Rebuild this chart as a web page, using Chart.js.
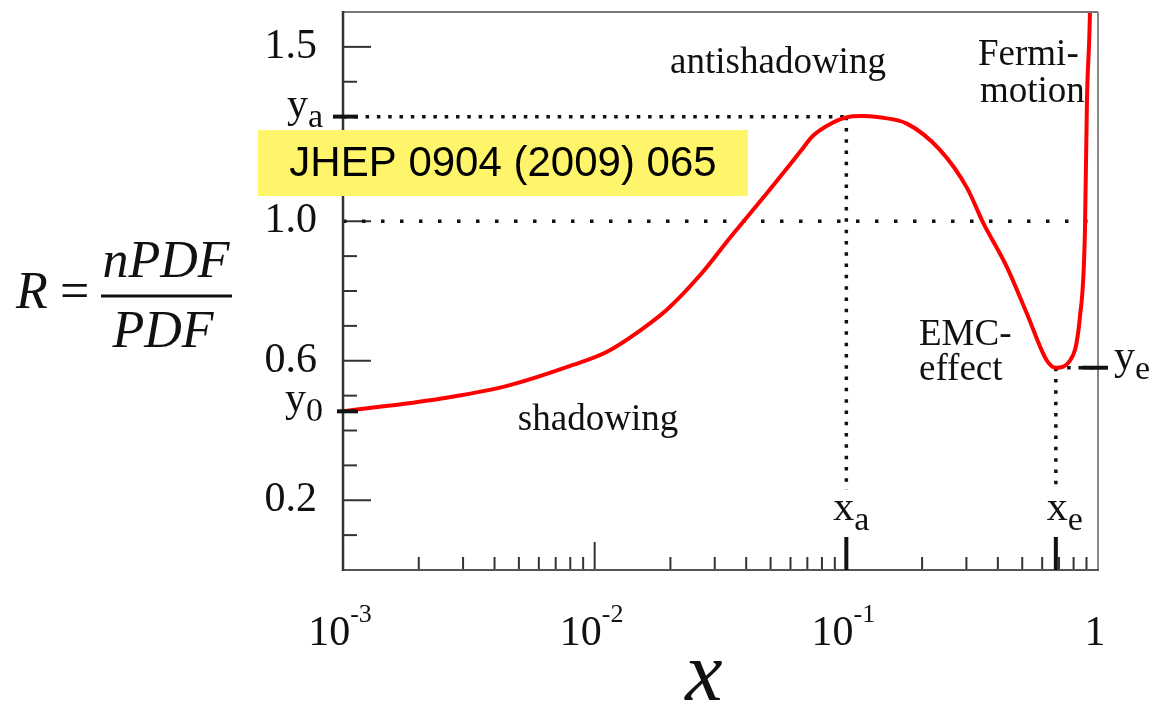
<!DOCTYPE html>
<html>
<head>
<meta charset="utf-8">
<title>nPDF / PDF</title>
<script src="https://cdn.jsdelivr.net/npm/chart.js@4.4.1/dist/chart.umd.min.js"></script>
<style>
  html, body { margin: 0; padding: 0; background: #fff; }
  #wrap { width: 1154px; height: 707px; }
</style>
</head>
<body>
<div id="wrap"><canvas id="ratioChart" width="1154" height="707"></canvas></div>
<script>
// R(x) = nPDF/PDF along the red curve
const xPoints = [0.001, 0.00243, 0.00449, 0.0082, 0.0112, 0.0151, 0.0194, 0.0262, 0.0354, 0.0388,
                 0.0484, 0.0655, 0.0737, 0.0885, 0.1, 0.115, 0.135, 0.174, 0.236, 0.302,
                 0.349, 0.435, 0.522, 0.627, 0.68, 0.773, 0.847, 0.887, 0.904, 0.929, 0.945];
const ratio = [0.455, 0.491, 0.528, 0.588, 0.626, 0.686, 0.747, 0.845, 0.963, 0.997,
               1.081, 1.199, 1.245, 1.283, 1.298, 1.302, 1.298, 1.280, 1.204, 1.095,
               0.997, 0.868, 0.735, 0.600, 0.58, 0.600, 0.724, 0.965, 1.348, 1.60, 2.0];

// characteristic points
const xa = 0.1, ya = 1.30;   // antishadowing maximum
const xe = 0.68, ye = 0.58;  // EMC minimum
const y0 = 0.455;            // small-x limit
const guideBottom = 0.23;

// axis ticks
const yTickValues = [0.1, 0.2, 0.3, 0.4, 0.5, 0.6, 0.7, 0.8, 0.9, 1.0, 1.1, 1.2, 1.3, 1.4, 1.5];
const yLabelValues = [1.5, 1.0, 0.6, 0.2];
const yTickLabels = ['1.5', '1.0', '0.6', '0.2'];
const xDecades = [0.001, 0.01, 0.1, 1];
const xDecadeLabels = [['10', '-3'], ['10', '-2'], ['10', '-1'], ['1', '']];

const SERIF = '"Liberation Serif", "DejaVu Serif", serif';

function richText(ctx, main, small, x, y, align, size, smallSize, shift) {
  ctx.font = size + 'px ' + SERIF;
  const w1 = ctx.measureText(main).width;
  ctx.font = smallSize + 'px ' + SERIF;
  const w2 = ctx.measureText(small).width;
  let left = x;
  if (align === 'right') left = x - w1 - w2;
  if (align === 'center') left = x - (w1 + w2) / 2;
  ctx.textAlign = 'left';
  ctx.textBaseline = 'alphabetic';
  ctx.font = size + 'px ' + SERIF;
  ctx.fillText(main, left, y);
  ctx.font = smallSize + 'px ' + SERIF;
  ctx.fillText(small, left + w1, y + shift);
}

function line(ctx, x1, y1, x2, y2, w, color) {
  ctx.beginPath();
  ctx.lineWidth = w;
  ctx.strokeStyle = color;
  ctx.moveTo(x1, y1);
  ctx.lineTo(x2, y2);
  ctx.stroke();
}

const decorations = {
  id: 'decorations',
  beforeDatasetsDraw(chart) {
    const { ctx, chartArea: a, scales: { x, y } } = chart;
    ctx.save();
    ctx.lineCap = 'butt';
    // inward ticks on the y axis
    yTickValues.forEach(v => {
      const py = y.getPixelForValue(v);
      const len = yLabelValues.includes(v) ? 28 : 14;
      line(ctx, a.left, py, a.left + len, py, 2, '#333');
    });
    // log ticks on the x axis
    xDecades.slice(0, 3).forEach(d => {
      for (let m = 2; m <= 9; m++) {
        const px = x.getPixelForValue(m * d);
        line(ctx, px, a.bottom, px, a.bottom - 13, 2, '#333');
      }
    });
    const p2 = x.getPixelForValue(0.01);
    line(ctx, p2, a.bottom, p2, a.bottom - 28, 2, '#333');
    ctx.restore();
  },
  afterDraw(chart) {
    const { ctx, chartArea: a, scales: { x, y } } = chart;
    ctx.save();
    ctx.lineCap = 'butt';
    // frame
    line(ctx, a.left, a.top, a.right, a.top, 2, '#777');
    line(ctx, a.right, a.top, a.right, a.bottom, 2, '#888');
    line(ctx, a.left, a.bottom, a.right + 1, a.bottom, 2, '#555');
    line(ctx, a.left, a.top - 1, a.left, a.bottom + 1, 2.5, '#333');

    // thick marks at the characteristic points
    const pya = y.getPixelForValue(ya), py0 = y.getPixelForValue(y0), pye = y.getPixelForValue(ye);
    const pxa = x.getPixelForValue(xa), pxe = x.getPixelForValue(xe);
    line(ctx, a.left - 10, pya, a.left + 15, pya, 4, '#111');
    line(ctx, a.left - 6, py0, a.left + 15, py0, 4, '#111');
    line(ctx, a.right - 16, pye, a.right + 10, pye, 4, '#111');
    line(ctx, pxa, a.bottom, pxa, a.bottom - 33, 4, '#111');
    line(ctx, pxe, a.bottom, pxe, a.bottom - 33, 4, '#111');

    ctx.fillStyle = '#111';
    richText(ctx, 'y', 'a', a.left - 20, pya, 'right', 42, 34, 10);
    richText(ctx, 'y', '0', a.left - 20, py0, 'right', 42, 34, 10);
    richText(ctx, 'y', 'e', a.right + 16, pye + 1, 'left', 42, 34, 10);
    richText(ctx, 'x', 'a', pxa - 13, a.bottom - 50, 'left', 42, 34, 10);
    richText(ctx, 'x', 'e', pxe - 9, a.bottom - 50, 'left', 42, 34, 10);

    // decade labels under the x axis
    xDecades.forEach((d, i) => {
      const [base, exp] = xDecadeLabels[i];
      richText(ctx, base, exp, x.getPixelForValue(d) - 3, a.bottom + 75, 'center', 42, 26, -23);
    });

    // region names
    ctx.font = '37px ' + SERIF;
    ctx.textAlign = 'center';
    ctx.textBaseline = 'alphabetic';
    ctx.fillText('antishadowing', 778, 73);
    ctx.fillText('shadowing', 598, 430);
    ctx.textAlign = 'left';
    ctx.fillText('Fermi-', 978, 65);
    ctx.fillText('motion', 980, 102);
    ctx.fillText('EMC-', 919, 345);
    ctx.fillText('effect', 919, 380);

    // axis title and ratio definition
    ctx.font = 'italic 84px ' + SERIF;
    ctx.textAlign = 'center';
    ctx.fillText('x', 704, 700);
    ctx.font = 'italic 52px ' + SERIF;
    ctx.textAlign = 'left';
    ctx.fillText('R', 16, 308);
    ctx.font = '52px ' + SERIF;
    ctx.fillText('=', 60, 308);
    ctx.font = 'italic 52px ' + SERIF;
    ctx.textAlign = 'center';
    ctx.fillText('nPDF', 166, 277);
    ctx.fillText('PDF', 163, 347);
    line(ctx, 101, 296, 232, 296, 3, '#111');

    // reference box
    ctx.fillStyle = '#fff56b';
    ctx.fillRect(258, 130, 490, 66);
    ctx.fillStyle = '#000';
    ctx.font = '42px "Liberation Sans", Arial, sans-serif';
    ctx.textAlign = 'center';
    ctx.textBaseline = 'middle';
    ctx.fillText('JHEP 0904 (2009) 065', 503, 164);
    ctx.restore();
  }
};

const guide = (pts, dash) => ({
  data: pts,
  borderColor: '#111',
  borderWidth: 3.5,
  borderDash: dash,
  borderCapStyle: 'butt',
  pointRadius: 0,
  tension: 0,
  fill: false
});

new Chart(document.getElementById('ratioChart'), {
  type: 'line',
  data: {
    datasets: [
      {
        data: xPoints.map((v, i) => ({ x: v, y: ratio[i] })),
        borderColor: '#ff0000',
        borderWidth: 4,
        pointRadius: 0,
        cubicInterpolationMode: 'monotone',
        fill: false
      },
      guide([{ x: 0.001, y: 1.0 }, { x: 1, y: 1.0 }], [3.5, 15.5]),
      guide([{ x: 0.001, y: ya }, { x: xa, y: ya }], [3.5, 7.8]),
      guide([{ x: xa, y: ya }, { x: xa, y: guideBottom }], [3.5, 7.8]),
      guide([{ x: xe, y: ye }, { x: xe, y: guideBottom }], [3.5, 7.8]),
      guide([{ x: xe, y: ye }, { x: 1, y: ye }], [3.5, 7.8])
    ]
  },
  options: {
    responsive: false,
    animation: false,
    events: [],
    layout: { padding: { left: 0, top: 12, right: 56, bottom: 137 } },
    plugins: { legend: { display: false }, tooltip: { enabled: false } },
    scales: {
      x: {
        type: 'logarithmic',
        min: 0.001,
        max: 1,
        display: false
      },
      y: {
        type: 'linear',
        min: 0,
        max: 1.6,
        grid: { display: false, drawTicks: false },
        border: { display: false },
        afterFit(scale) {
          scale.width = 343;
          scale.paddingTop = 0;
          scale.paddingBottom = 0;
        },
        afterBuildTicks(scale) { scale.ticks = yTickValues.map(v => ({ value: v })); },
        ticks: {
          autoSkip: false,
          padding: 26,
          color: '#111',
          font: { family: SERIF, size: 42 },
          callback(value) {
            const i = yLabelValues.indexOf(value);
            return i >= 0 ? yTickLabels[i] : '';
          }
        }
      }
    }
  },
  plugins: [decorations]
});
</script>
</body>
</html>
